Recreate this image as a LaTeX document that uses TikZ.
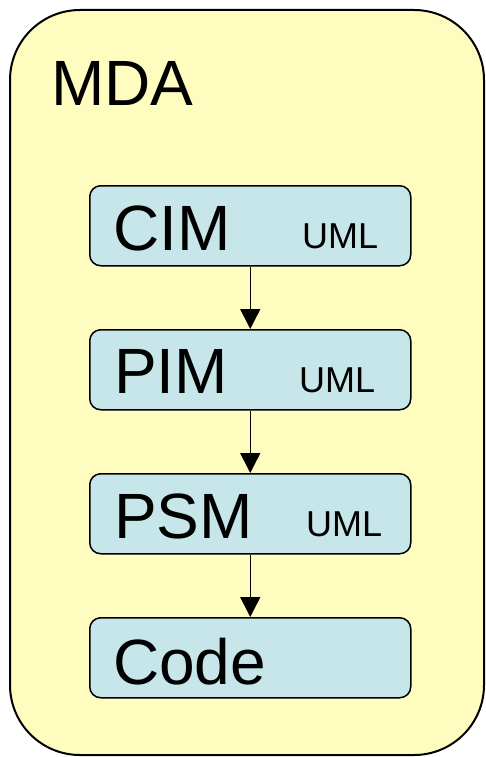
\documentclass[tikz,border=0pt]{standalone}
\usepackage{fontspec}
\setmainfont{Liberation Sans}
\usetikzlibrary{arrows.meta}
\definecolor{outerfill}{HTML}{FFFCC0}
\definecolor{boxfill}{HTML}{C6E6EA}
\begin{document}
\begin{tikzpicture}[x=1pt,y=-1pt,
  modelbox/.style={draw=black, line width=1.5pt, fill=boxfill, rounded corners=11pt,
    minimum width=321pt, minimum height=80pt, inner sep=0pt, anchor=north west},
  bigtext/.style={anchor=base west, inner sep=0pt, font=\fontsize{64}{64}\selectfont},
  smalltext/.style={anchor=base west, inner sep=0pt, font=\fontsize{36}{36}\selectfont},
  flow/.style={draw=black, line width=1.5pt, -{Triangle[width=20pt,length=20pt]}}]
\useasboundingbox (0,0) rectangle (485,757);
\draw[line width=2pt, fill=outerfill, rounded corners=70pt] (10,10) rectangle (484,755);
\node[bigtext] (mda) at (51,106) {MDA};
\node[modelbox] (cim) at (89,185) {};
\node[modelbox] (pim) at (89,329) {};
\node[modelbox] (psm) at (89,473) {};
\node[modelbox] (code) at (89,617) {};
\node[bigtext] (cimt) at (113,250) {CIM};
\node[smalltext] (cimu) at (302,248) {UML};
\node[bigtext] (pimt) at (114,393) {PIM};
\node[smalltext] (pimu) at (299,392) {UML};
\node[bigtext] (psmt) at (114,538) {PSM};
\node[smalltext] (psmu) at (306,536) {UML};
\node[bigtext] (codet) at (113,684) {Code};
\draw[flow] (cim.south) -- (pim.north);
\draw[flow] (pim.south) -- (psm.north);
\draw[flow] (psm.south) -- (code.north);
\end{tikzpicture}
\end{document}
